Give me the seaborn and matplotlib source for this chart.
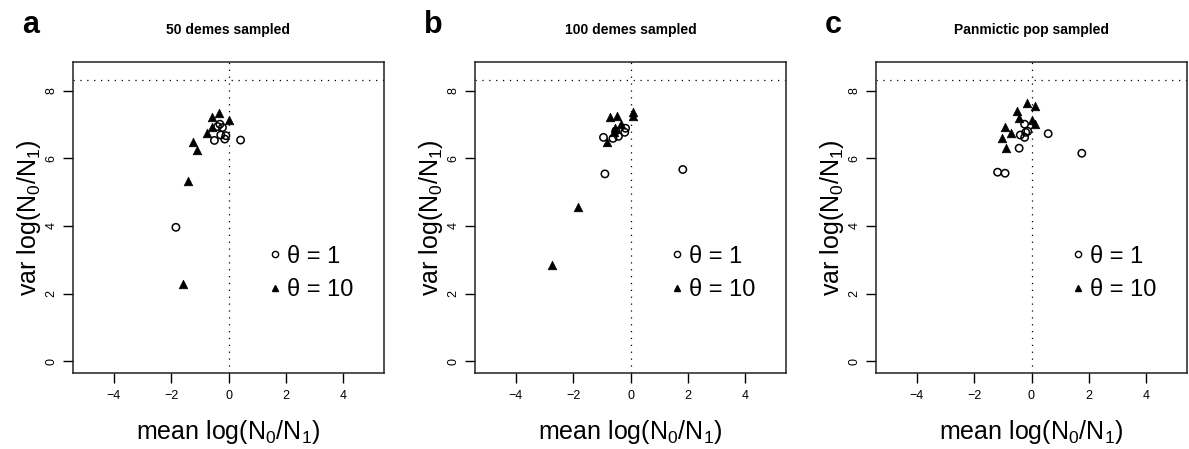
import numpy as np
import pandas as pd
import matplotlib
matplotlib.use("Agg")
import matplotlib.pyplot as plt
from matplotlib.lines import Line2D
import seaborn as sns

sns.set_theme(style="white")
plt.rcParams['font.family'] = ['Liberation Sans', 'DejaVu Sans']
plt.rcParams['mathtext.fontset'] = 'custom'
plt.rcParams['mathtext.rm'] = 'Liberation Sans'
plt.rcParams['mathtext.it'] = 'Liberation Sans'
plt.rcParams['text.color'] = 'black'
plt.rcParams['axes.labelcolor'] = 'black'
plt.rcParams['xtick.color'] = 'black'
plt.rcParams['ytick.color'] = 'black'

titles = ["50 demes sampled", "100 demes sampled", "Panmictic pop sampled"]
letters = ["a", "b", "c"]

# theta = 1 (open circles)
a_t1_x = [-0.30, -0.38, -0.21, -0.27, -0.09, -0.13, -0.49, 0.42, -1.83]
a_t1_y = [7.01, 6.94, 6.91, 6.69, 6.67, 6.57, 6.53, 6.54, 3.96]
# theta = 10 (filled triangles)
a_t10_x = [-0.34, -0.56, 0.01, -0.59, -0.76, -1.23, -1.09, -1.40, -1.60]
a_t10_y = [7.33, 7.21, 7.14, 6.94, 6.74, 6.49, 6.25, 5.33, 2.29]

b_t1_x = [-0.17, -0.20, -0.42, -0.61, -0.94, -0.51, -0.89, 1.82]
b_t1_y = [6.89, 6.77, 6.65, 6.59, 6.62, 6.81, 5.54, 5.67]
b_t10_x = [-0.72, -0.46, 0.09, 0.10, -0.34, -0.54, -0.57, -0.83, -1.82, -2.72]
b_t10_y = [7.21, 7.26, 7.36, 7.26, 7.01, 6.89, 6.77, 6.47, 4.57, 2.84]

c_t1_x = [-0.24, -0.13, -0.20, -0.39, -0.24, 0.58, -0.43, -1.18, -0.92, 1.75]
c_t1_y = [7.01, 6.80, 6.77, 6.69, 6.62, 6.73, 6.30, 5.59, 5.56, 6.15]
c_t10_x = [-0.16, 0.13, -0.51, -0.42, 0.03, 0.13, -0.91, -0.72, -1.03, -0.88]
c_t10_y = [7.63, 7.56, 7.39, 7.19, 7.13, 7.01, 6.94, 6.74, 6.60, 6.32]

hline_y = 8.33
vline_x = 0.0
xticks = [-4, -2, 0, 2, 4]
yticks = [0, 2, 4, 6, 8]

panels = [
    (a_t1_x, a_t1_y, a_t10_x, a_t10_y),
    (b_t1_x, b_t1_y, b_t10_x, b_t10_y),
    (c_t1_x, c_t1_y, c_t10_x, c_t10_y),
]

W, H = 1189, 449
fig = plt.figure(figsize=(W / 100, H / 100), dpi=100)
lefts = [73, 475, 876]
aw, ah = 311, 311
top = 62

for i, (x1, y1, x10, y10) in enumerate(panels):
    ax = fig.add_axes([lefts[i] / W, (H - top - ah) / H, aw / W, ah / H])
    d1 = pd.DataFrame({"x": x1, "y": y1})
    d10 = pd.DataFrame({"x": x10, "y": y10})
    ax.axhline(hline_y, color="black", lw=0.9, ls=(0, (1, 4.5)), zorder=1)
    ax.axvline(vline_x, color="black", lw=0.9, ls=(0, (1, 4.5)), zorder=1)
    sns.scatterplot(data=d1, x="x", y="y", ax=ax, marker="o", s=28,
                    facecolors="none", edgecolor="black", linewidth=1.1, zorder=3)
    sns.scatterplot(data=d10, x="x", y="y", ax=ax, marker="^", s=38,
                    color="black", edgecolor="black", linewidth=0.5, zorder=3)
    ax.set_xlim(-5.41, 5.41)
    ax.set_ylim(-0.35, 8.85)
    ax.set_xticks(xticks)
    ax.set_yticks(yticks)
    ax.set_xticklabels([str(t).replace("-", "\u2212") for t in xticks], fontsize=9)
    ax.set_yticklabels([str(t) for t in yticks], fontsize=9, rotation=90, va="center")
    ax.tick_params(axis="both", which="both", direction="out", length=7, width=1,
                   color="black", bottom=True, left=True, top=False, right=False)
    ax.tick_params(axis="x", pad=5)
    ax.tick_params(axis="y", pad=4)
    for sp in ax.spines.values():
        sp.set_visible(True)
        sp.set_color("#222222")
        sp.set_linewidth(1.1)
    ax.set_xlabel("mean log(N$_0$/N$_1$)", fontsize=18)
    ax.set_ylabel("var log(N$_0$/N$_1$)", fontsize=18)
    ax.xaxis.set_label_coords(0.5, -0.145)
    ax.yaxis.set_label_coords(-0.098, 0.5)
    handles = [
        Line2D([], [], marker="o", ls="none", markerfacecolor="none",
               markeredgecolor="black", markersize=4.5, markeredgewidth=1),
        Line2D([], [], marker="^", ls="none", color="black", markersize=5),
    ]
    ax.legend(handles, ["\u03b8 = 1", "\u03b8 = 10"], loc="center left",
              bbox_to_anchor=(0.59, 0.32), frameon=False, fontsize=17,
              handlelength=0.6, handletextpad=0.2, labelspacing=0.5, borderpad=0)
    fig.text((lefts[i] + aw / 2) / W, 1 - 30 / H, titles[i], ha="center", va="center",
             fontsize=10, fontweight="bold")
    fig.text((lefts[i] - 51) / W, 1 - 33 / H, letters[i], ha="left", va="baseline",
             fontsize=22, fontweight="bold")

fig.savefig("out.png", dpi=100)
